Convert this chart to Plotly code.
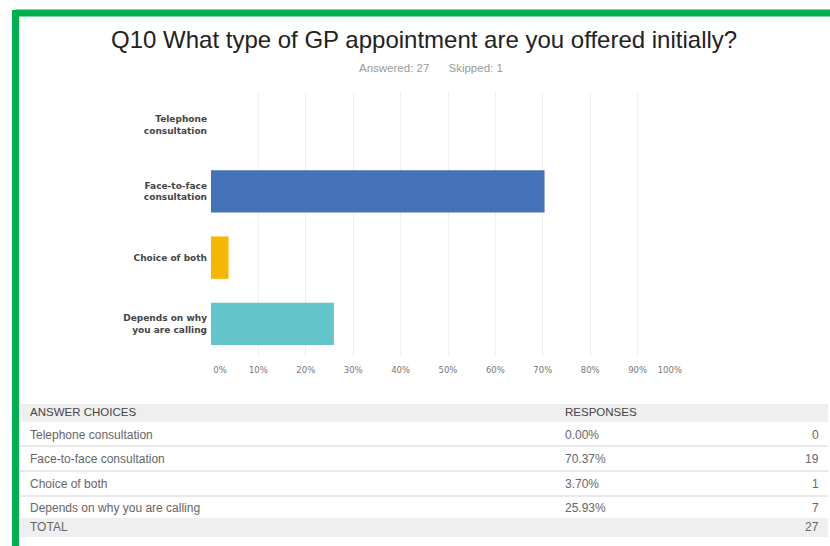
import plotly.graph_objects as go

W, H = 830, 546

categories = ["Telephone consultation", "Face-to-face consultation", "Choice of both", "Depends on why you are calling"]
axis_labels = ["Telephone<br>consultation", "Face-to-face<br>consultation", "Choice of both", "Depends on why<br>you are calling"]
percents = [0.00, 70.37, 3.70, 25.93]
counts = [0, 19, 1, 7]
total = 27
answered, skipped = 27, 1
bar_colors = ["#4472b8", "#4472b8", "#f5b700", "#63c4ca"]
grid_ticks = [0, 10, 20, 30, 40, 50, 60, 70, 80, 90, 100]
tick_labels = [f"{t}%" for t in grid_ticks]
# label anchor positions (first and last labels sit inside the plot edges)
label_pos = [1.9, 10, 20, 30, 40, 50, 60, 70, 80, 90, 96.8]


def px(x):
    return x / W


def py(y):
    return 1 - y / H


fig = go.Figure()
fig.add_trace(go.Bar(
    y=axis_labels, x=percents, orientation="h",
    marker=dict(color=bar_colors, line=dict(width=0)),
    hoverinfo="skip", showlegend=False,
))

shapes = []
annotations = []

# green frame
shapes.append(dict(type="line", xref="paper", yref="paper", x0=px(15.5), x1=px(832), y0=py(13), y1=py(13),
                   line=dict(color="#00b050", width=7)))
shapes.append(dict(type="line", xref="paper", yref="paper", x0=px(15.5), x1=px(15.5), y0=py(10), y1=py(548),
                   line=dict(color="#00b050", width=7)))

# title
annotations.append(dict(xref="paper", yref="paper", x=px(424), y=py(40), text="Q10 What type of GP appointment are you offered initially?",
                        showarrow=False, xanchor="center", yanchor="middle",
                        font=dict(family="Liberation Sans, Arial", size=24, color="#222")))
annotations.append(dict(xref="paper", yref="paper", x=px(431), y=py(68),
                        text=f"Answered: {answered}&nbsp;&nbsp;&nbsp;&nbsp;&nbsp;&nbsp;Skipped: {skipped}",
                        showarrow=False, xanchor="center", yanchor="middle",
                        font=dict(family="Liberation Sans, Arial", size=11.5, color="#9a9a9a")))

# table
tx0, tx1 = 20, 828
shapes.append(dict(type="rect", xref="paper", yref="paper", x0=px(tx0), x1=px(tx1), y0=py(404), y1=py(422),
                   fillcolor="#efefef", line=dict(width=0), layer="below"))
shapes.append(dict(type="rect", xref="paper", yref="paper", x0=px(tx0), x1=px(tx1), y0=py(518), y1=py(537),
                   fillcolor="#efefef", line=dict(width=0), layer="below"))
for ly in [446, 471, 496]:
    shapes.append(dict(type="line", xref="paper", yref="paper", x0=px(tx0), x1=px(tx1), y0=py(ly), y1=py(ly),
                       line=dict(color="#d4d4d4", width=1)))

tfont = dict(family="Liberation Sans, Arial", size=12, color="#666")
hfont = dict(family="Liberation Sans, Arial", size=11.5, color="#444")
annotations.append(dict(xref="paper", yref="paper", x=px(28), y=py(412), text="ANSWER CHOICES", showarrow=False,
                        xanchor="left", yanchor="middle", font=hfont))
annotations.append(dict(xref="paper", yref="paper", x=px(563), y=py(412), text="RESPONSES", showarrow=False,
                        xanchor="left", yanchor="middle", font=hfont))
row_y = [435, 459, 484, 508]
for cat, p, c, ry in zip(categories, percents, counts, row_y):
    annotations.append(dict(xref="paper", yref="paper", x=px(28), y=py(ry), text=cat, showarrow=False,
                            xanchor="left", yanchor="middle", font=tfont))
    annotations.append(dict(xref="paper", yref="paper", x=px(563), y=py(ry), text=f"{p:.2f}%", showarrow=False,
                            xanchor="left", yanchor="middle", font=tfont))
    annotations.append(dict(xref="paper", yref="paper", x=px(821), y=py(ry), text=str(c), showarrow=False,
                            xanchor="right", yanchor="middle", font=tfont))
annotations.append(dict(xref="paper", yref="paper", x=px(28), y=py(527), text="TOTAL", showarrow=False,
                        xanchor="left", yanchor="middle", font=tfont))
annotations.append(dict(xref="paper", yref="paper", x=px(821), y=py(527), text=str(total), showarrow=False,
                        xanchor="right", yanchor="middle", font=tfont))

xdom = [px(211), px(685)]
fig.update_layout(
    width=W, height=H,
    margin=dict(l=0, r=0, t=0, b=0),
    paper_bgcolor="white", plot_bgcolor="white",
    bargap=0.36,
    shapes=shapes, annotations=annotations,
    xaxis=dict(domain=xdom, range=[0, 100], tickvals=grid_ticks, showticklabels=False,
               showgrid=True, gridcolor="#efefef", gridwidth=1, zeroline=False, showline=False,
               ticks="", fixedrange=True),
    xaxis2=dict(domain=xdom, range=[0, 100], overlaying="x", side="bottom", anchor="y",
                tickvals=label_pos, ticktext=tick_labels, showgrid=False, zeroline=False, showline=False,
                ticks="", ticklabelstandoff=6,
                tickfont=dict(family="DejaVu Sans", size=8.5, color="#777"), fixedrange=True),
    yaxis=dict(domain=[py(357), py(92)], autorange="reversed", showgrid=False, zeroline=False,
               showline=False, ticks="", ticklabelstandoff=3,
               tickfont=dict(family="DejaVu Sans", size=9, color="#444", weight="bold"),
               fixedrange=True),
)
# invisible helper so the label axis is drawn
fig.add_trace(go.Scatter(x=[None], y=[None], xaxis="x2", yaxis="y", showlegend=False, hoverinfo="skip"))

fig.write_html("out.html", config={"responsive": False})
